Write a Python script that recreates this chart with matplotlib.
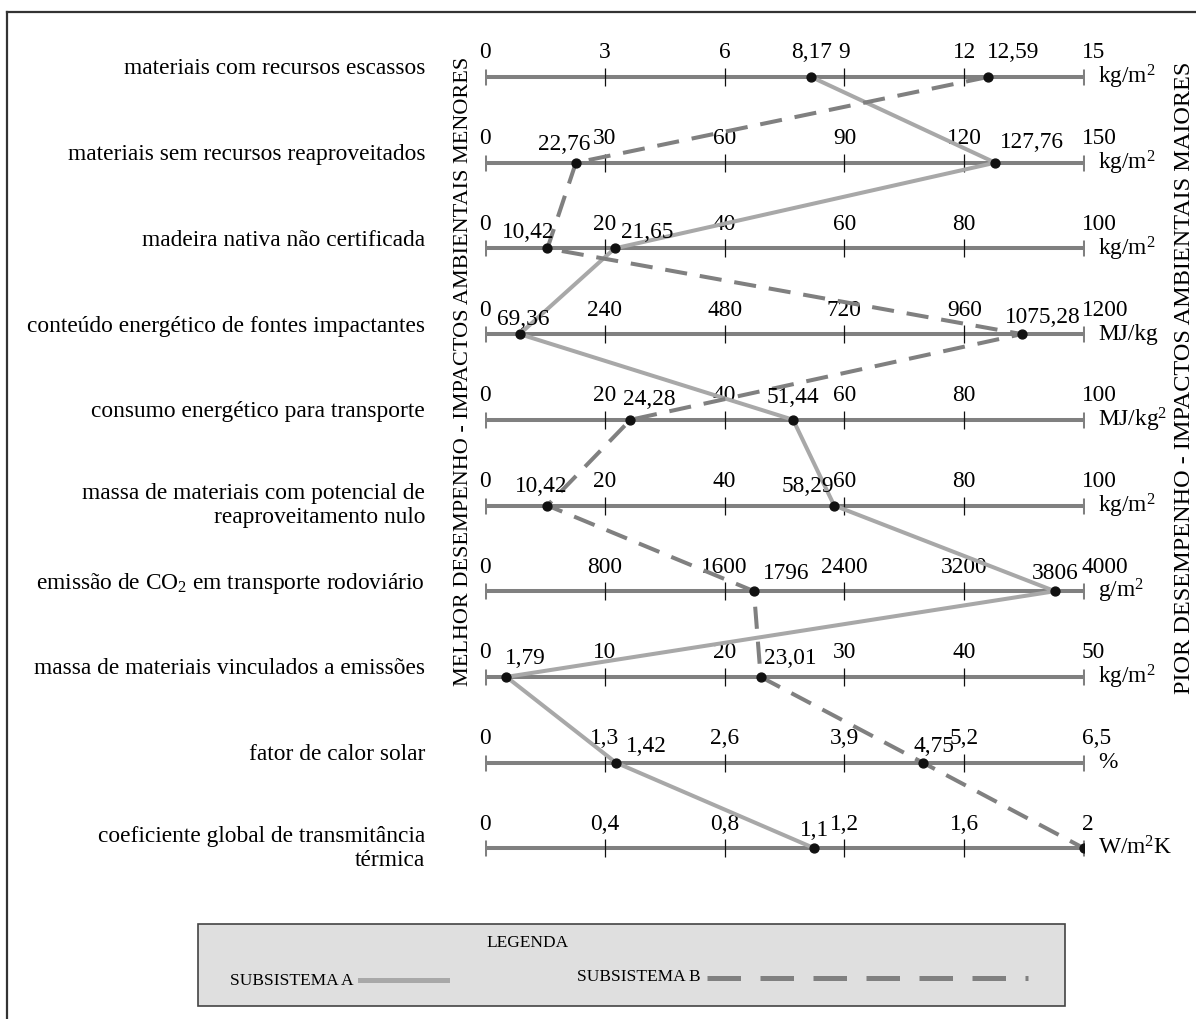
#Perfil de desempenho ambiental - subsistemas A e B
#escalas paralelas, uma por criterio

import matplotlib.pyplot as plt
from matplotlib.lines import Line2D
from matplotlib.patches import Rectangle

plt.rcParams['font.family'] = ['Liberation Serif', 'DejaVu Serif']
plt.rcParams['mathtext.fontset'] = 'custom'
plt.rcParams['mathtext.rm'] = 'Liberation Serif'
plt.rcParams['mathtext.it'] = 'Liberation Serif:italic'

categorias = ['materiais com recursos escassos',
              'materiais sem recursos reaproveitados',
              'madeira nativa não certificada',
              'conteúdo energético de fontes impactantes',
              'consumo energético para transporte',
              'massa de materiais com potencial de\nreaproveitamento nulo',
              'emissão de CO$_2$ em transporte rodoviário',
              'massa de materiais vinculados a emissões',
              'fator de calor solar',
              'coeficiente global de transmitância\ntérmica']
maximos = [15, 150, 100, 1200, 100, 100, 4000, 50, 6.5, 2]
unidades = ['kg/m$^2$', 'kg/m$^2$', 'kg/m$^2$', 'MJ/kg', 'MJ/kg$^2$',
            'kg/m$^2$', 'g/m$^2$', 'kg/m$^2$', '%', 'W/m$^2$K']
sub_a = [8.17, 127.76, 21.65, 69.36, 51.44, 58.29, 3806, 1.79, 1.42, 1.1]
sub_b = [12.59, 22.76, 10.42, 1075.28, 24.28, 10.42, 1796, 23.01, 4.75, 2]
rot_a = ['8,17', '127,76', '21,65', '69,36', '51,44', '58,29', '3806', '1,79', '1,42', '1,1']
rot_b = ['12,59', '22,76', '10,42', '1075,28', '24,28', '10,42', '1796', '23,01', '4,75', None]

# posicao dos rotulos de valor (dx, dy em pixels, alinhamento)
pos_a = [(0, -24, 'center'), (5, -20, 'left'), (6, -16, 'left'), (4, -15, 'center'),
         (0, -22, 'center'), (0, -19, 'right'), (0, -18, 'center'), (-1, -18, 'left'),
         (10, -16, 'left'), (0, -18, 'center')]
pos_b = [(-1, -24, 'left'), (-12, -18, 'center'), (7, -16, 'right'), (21, -17, 'center'),
         (-7, -20, 'left'), (-6, -19, 'center'), (9, -18, 'left'), (3, -18, 'left'),
         (11, -16, 'center'), (0, 0, 'center')]

W, H = 1196, 1019
y0, dy_row = 77, 85.7
cor_escala = '#808080'
cor_a = '#a8a8a8'
cor_b = '#808080'
fs = 16.8

def fmt(v):
    s = ('%.2f' % v).rstrip('0').rstrip('.')
    return s.replace('.', ',')

fig = plt.figure(figsize=(W/100, H/100), dpi=100)
ax = fig.add_axes([485/W, 0, 599/W, 1])
ax.set_xlim(0, 1)
ax.set_ylim((H - y0)/dy_row, -y0/dy_row)
ax.axis('off')

n = len(categorias)
linhas = list(range(n))
xa = [v/m for v, m in zip(sub_a, maximos)]
xb = [v/m for v, m in zip(sub_b, maximos)]

for i in linhas:
    ax.plot([0, 1], [i, i], color=cor_escala, lw=2.9, solid_capstyle='butt', zorder=1)
    ax.plot([0, 1], [i, i], ls='none', marker='|', ms=11.5, mew=2.2, color=cor_escala, zorder=1)
    ax.plot([0.2, 0.4, 0.6, 0.8], [i]*4, ls='none', marker='|', ms=13, mew=0.9,
            color='#111111', zorder=2)
    for k in range(6):
        ha = 'left' if k == 5 else 'center'
        dx = -2 if k == 5 else 0
        ax.annotate(fmt(maximos[i]*k/5), xy=(k/5, i), xytext=(dx, 24),
                    textcoords='offset pixels', ha=ha, va='center', fontsize=fs)
    ax.annotate(unidades[i], xy=(1, i), xytext=(14, 0), textcoords='offset pixels',
                ha='left', va='center', fontsize=fs)
    off = 0 if '\n' in categorias[i] else 8
    ax.annotate(categorias[i], xy=(0, i), xytext=(-60, off), textcoords='offset pixels',
                ha='right', va='center', fontsize=fs, multialignment='right',
                linespacing=1.15)

ax.plot(xa, linhas, color=cor_a, lw=2.9, zorder=3)
ax.plot(xb, linhas, color=cor_b, lw=2.9, dashes=(5.5, 3.2), zorder=3)
ax.plot(xa, linhas, ls='none', marker='o', ms=6.4, color='#111111', zorder=5)
ax.plot(xb, linhas, ls='none', marker='o', ms=6.4, color='#111111', zorder=5)

for xs, rots, pos in [(xa, rot_a, pos_a), (xb, rot_b, pos_b)]:
    for i in linhas:
        if rots[i] is None:
            continue
        dx, dy, ha = pos[i]
        ax.annotate(rots[i], xy=(xs[i], i), xytext=(dx, -dy), textcoords='offset pixels',
                    ha=ha, va='center', fontsize=fs, zorder=6)

fig.text(463/W, 1 - 371/H, 'MELHOR DESEMPENHO - IMPACTOS AMBIENTAIS MENORES',
         rotation=90, ha='center', va='center', fontsize=16)
fig.text(1185/W, 1 - 378/H, 'PIOR DESEMPENHO - IMPACTOS AMBIENTAIS MAIORES',
         rotation=90, ha='center', va='center', fontsize=17.5)

# moldura
fig.add_artist(Line2D([7/W, 1], [1 - 12/H, 1 - 12/H], color='#333333', lw=1.6))
fig.add_artist(Line2D([7/W, 7/W], [0, 1 - 12/H], color='#333333', lw=1.6))

# legenda
fig.add_artist(Rectangle((198/W, 1 - 1006/H), 867/W, 82/H, facecolor='#dfdfdf',
                         edgecolor='#444444', lw=1.2))
fig.text(528/W, 1 - 943/H, 'LEGENDA', ha='center', va='center', fontsize=12.5)
fig.text(230/W, 1 - 981/H, 'SUBSISTEMA A', ha='left', va='center', fontsize=12.5)
fig.add_artist(Line2D([360/W, 447/W], [1 - 980/H]*2, color=cor_a, lw=3.6))
fig.text(577/W, 1 - 977/H, 'SUBSISTEMA B', ha='left', va='center', fontsize=12.5)
fig.add_artist(Line2D([707/W, 1028/W], [1 - 978/H]*2, color=cor_b, lw=3.6,
                      dashes=(6.7, 3.9)))

plt.savefig('out.png', dpi=100)
